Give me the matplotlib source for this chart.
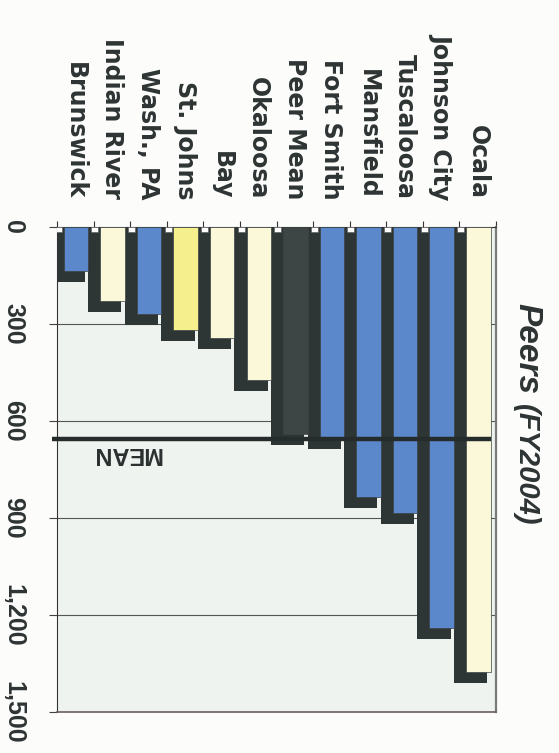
import matplotlib.pyplot as plt
from matplotlib.ticker import FixedLocator


# Peers (FY2004)
categories = [
    "Brunswick", "Indian River", "Wash., PA", "St. Johns", "Bay", "Okaloosa",
    "Peer Mean", "Fort Smith", "Mansfield", "Tuscaloosa", "Johnson City", "Ocala",
]
values = [136, 228, 270, 318, 343, 473, 640, 653, 835, 885, 1239, 1375]
kinds = ["blue", "cream", "blue", "yellow", "cream", "cream",
         "mean", "blue", "blue", "blue", "blue", "cream"]
mean_value = 655
value_ticks = [0, 300, 600, 900, 1200, 1500]
value_labels = ["0", "300", "600", "900", "1,200", "1,500"]

COLOURS = {
    "blue": "#5b88cb",
    "cream": "#fbf8d9",
    "yellow": "#f6ef8e",
    "mean": "#3e4645",
}
SHADOW = "#2d3535"
PLOT_BG = "#eef3ef"
DEPTH = 34  # extra length of the dark 3D side, in value units


def draw_bars(axis):
    """Draw the 3D-looking bars: dark extrusion first, then the front face."""
    xs = list(range(len(categories)))
    shadow_heights = [v + DEPTH for v in values]
    axis.bar([x - 0.195 for x in xs], shadow_heights, width=0.91,
             color=SHADOW, zorder=2)
    axis.bar([x - 0.465 for x in xs], [16] * len(xs), width=0.19,
             color="white", edgecolor="#555555", linewidth=0.4, zorder=3)
    axis.bar([x + 0.015 for x in xs], values, width=0.67,
             color=[COLOURS[k] for k in kinds], edgecolor="#3a4242",
             linewidth=0.5, zorder=4)


def draw_mean(axis):
    """Thick mean line with the upside-down MEAN label."""
    axis.plot([-0.64, 11.35], [mean_value, mean_value], color="#262c2c",
              linewidth=3.2, solid_capstyle="butt", zorder=5, clip_on=False)
    axis.text(1.41, mean_value + 44, "MEAN", rotation=180, ha="center",
              va="center", fontsize=17, fontweight="bold",
              family="Liberation Sans", color="#2a3030", zorder=6)


def style_axes(axis):
    axis.set_facecolor(PLOT_BG)
    axis.set_xlim(-0.5, len(categories) - 0.5)
    axis.set_ylim(1500, 0)

    # value axis on the left, labels turned like the scanned page
    axis.set_yticks(value_ticks)
    axis.set_yticklabels(value_labels, rotation=-90, ha="right", va="center",
                         fontsize=18, fontweight="bold",
                         family="Liberation Sans", color="#2e3434")
    axis.tick_params(axis="y", length=6, width=0.8, color="#444444", pad=17)
    axis.grid(axis="y", color="#555555", linewidth=0.8, zorder=1)
    axis.set_axisbelow(True)

    # category names across the top
    axis.set_xticks(range(len(categories)))
    axis.set_xticklabels(categories, rotation=-90, ha="center", va="bottom",
                         fontsize=17, fontweight="bold", family="DejaVu Sans",
                         color="#2e3434")
    axis.xaxis.set_minor_locator(
        FixedLocator([i - 0.5 for i in range(len(categories) + 1)]))
    axis.tick_params(axis="x", which="major", top=True, bottom=False,
                     labeltop=True, labelbottom=False, length=0, pad=20)
    axis.tick_params(axis="x", which="minor", top=True, bottom=False,
                     length=4, width=0.8, color="#333333", direction="out")

    axis.spines["left"].set_color("#333333")
    axis.spines["top"].set_color("#333333")
    axis.spines["bottom"].set_color("#6a605c")
    axis.spines["bottom"].set_linewidth(1.2)
    axis.spines["right"].set_color("#7a7a7a")
    axis.spines["right"].set_linewidth(1.6)


def main():
    fig = plt.figure(figsize=(5.59, 7.53), dpi=100)
    fig.patch.set_facecolor("#fcfdfb")
    ax = fig.add_axes([57 / 559, 41 / 753, 439 / 559, 485 / 753])

    style_axes(ax)
    draw_bars(ax)
    draw_mean(ax)

    # title on the right, reading top to bottom
    fig.text(518 / 559, 1 - 303 / 753, "Peers", rotation=-90,
             rotation_mode="anchor", ha="left", va="baseline",
             fontsize=24, fontweight="bold", style="italic",
             family="Liberation Sans", color="#2e3434")
    fig.text(518 / 559, 1 - 404 / 753, "(FY2004)", rotation=-90,
             rotation_mode="anchor", ha="left", va="baseline",
             fontsize=21, fontweight="bold", style="italic",
             family="Liberation Sans", color="#2e3434")

    fig.savefig("out.png", dpi=100, facecolor=fig.get_facecolor())
    plt.close(fig)


if __name__ == "__main__":
    main()
